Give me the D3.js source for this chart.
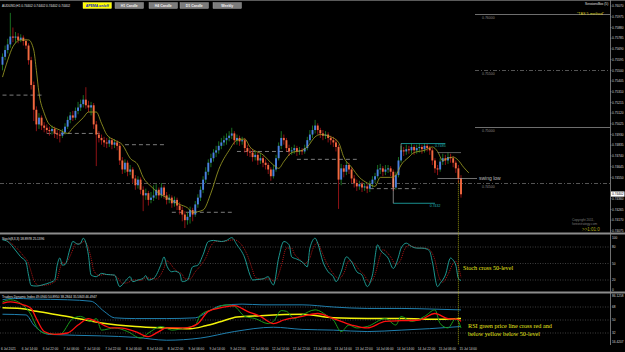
<!DOCTYPE html>
<html>
<head>
<meta charset="utf-8">
<script src="https://cdn.jsdelivr.net/npm/d3@7"></script>
<style>
html, body { margin: 0; padding: 0; background: #000; }
svg { display: block; }
</style>
</head>
<body>
<div id="chart"></div>
<script>
// AUDUSD H1, prices in pips (x 0.0001), open = previous close
var firstOpen = 7555;
var closes = [7562,7568,7573,7580,7579,7580,7577,7579,7576,7572,
	7559,7537,7515,7502,7508,7501,7499,7497,7496,7498,
	7494,7493,7492,7495,7500,7506,7510,7508,7514,7517,
	7520,7524,7519,7517,7519,7502,7493,7490,7488,7486,
	7485,7488,7484,7486,7483,7470,7462,7468,7460,7462,
	7454,7448,7453,7444,7439,7441,7435,7437,7439,7444,
	7439,7446,7439,7435,7437,7432,7435,7430,7426,7422,
	7417,7420,7426,7422,7431,7437,7444,7453,7460,7468,
	7472,7477,7479,7483,7486,7488,7490,7492,7494,7488,
	7490,7487,7488,7481,7478,7477,7473,7475,7470,7472,
	7468,7466,7462,7456,7462,7472,7483,7490,7488,7481,
	7478,7479,7481,7478,7479,7478,7481,7488,7493,7497,
	7501,7497,7494,7492,7493,7490,7488,7486,7482,7453,
	7463,7460,7466,7462,7454,7450,7447,7449,7446,7447,
	7445,7449,7453,7456,7462,7463,7460,7462,7463,7460,
	7446,7457,7470,7479,7478,7480,7479,7482,7479,7481,
	7482,7480,7483,7481,7479,7470,7463,7462,7469,7472,
	7470,7473,7472,7468,7463,7454,7440];
var highs = [7565,7572,7578,7601,7588,7584,7583,7582,7581,7578,
	7574,7562,7540,7518,7512,7510,7504,7502,7500,7501,
	7500,7497,7496,7498,7503,7509,7513,7514,7517,7522,
	7524,7528,7535,7523,7522,7521,7505,7496,7493,7491,
	7490,7491,7490,7489,7488,7485,7473,7471,7470,7466,
	7464,7457,7456,7455,7447,7445,7443,7442,7448,7449,
	7446,7450,7448,7442,7440,7439,7438,7437,7433,7429,
	7425,7424,7429,7428,7434,7440,7447,7456,7464,7471,
	7476,7480,7483,7487,7490,7492,7494,7496,7499,7496,
	7493,7492,7491,7490,7484,7481,7480,7478,7477,7476,
	7474,7471,7468,7464,7466,7475,7486,7496,7493,7490,
	7484,7482,7484,7483,7482,7481,7484,7491,7497,7501,
	7506,7503,7499,7497,7496,7495,7492,7491,7489,7484,
	7467,7466,7469,7468,7464,7457,7453,7452,7451,7450,
	7449,7452,7456,7459,7466,7467,7465,7466,7466,7465,
	7462,7460,7473,7483,7482,7484,7483,7485,7484,7484,
	7485,7484,7485,7485,7483,7481,7472,7466,7472,7476,
	7475,7477,7476,7474,7470,7466,7457];
var lows = [7550,7559,7565,7570,7575,7574,7574,7575,7572,7569,
	7555,7533,7505,7496,7498,7497,7495,7494,7492,7493,
	7490,7489,7486,7490,7493,7498,7503,7505,7506,7511,
	7514,7517,7516,7513,7510,7498,7465,7486,7484,7482,
	7481,7482,7480,7481,7479,7466,7458,7459,7456,7457,
	7450,7444,7445,7440,7425,7435,7430,7432,7434,7436,
	7435,7437,7436,7431,7432,7428,7429,7426,7422,7416,
	7410,7413,7414,7416,7420,7428,7434,7441,7450,7457,
	7464,7469,7473,7476,7480,7483,7484,7487,7489,7484,
	7484,7483,7484,7477,7474,7473,7469,7470,7466,7467,
	7464,7462,7458,7452,7454,7460,7470,7480,7484,7478,
	7474,7475,7476,7474,7475,7475,7476,7479,7486,7490,
	7494,7493,7490,7488,7489,7486,7484,7482,7478,7427,
	7448,7455,7457,7458,7450,7446,7443,7444,7442,7443,
	7441,7442,7446,7450,7454,7458,7456,7457,7459,7456,
	7443,7444,7455,7468,7474,7475,7476,7476,7475,7476,
	7477,7476,7477,7478,7475,7466,7459,7457,7460,7466,
	7466,7467,7468,7464,7459,7450,7437];

// displaced moving average [bar, pips]
var maLine = [[0,7544],[2,7559],[4,7571],[7,7577],[10,7577],[12,7568],[13,7550],[14,7530],
	[16,7512],[18,7502],[22,7497],[25,7494],[27,7499],[31,7508],[33,7513],[36,7513],
	[38,7503],[40,7493],[43,7488],[46,7484],[49,7472],[52,7466],[54,7455],[57,7447],
	[60,7441],[63,7437],[68,7431],[71,7428],[73,7424],[77,7426],[80,7441],[83,7462],
	[87,7479],[90,7488],[93,7489],[95,7482],[100,7475],[104,7466],[106,7463],[108,7469],
	[111,7477],[115,7479],[117,7482],[120,7491],[122,7493],[126,7491],[129,7486],[131,7473],
	[134,7464],[137,7455],[140,7450],[143,7447],[145,7455],[149,7455],[151,7457],[153,7466],
	[156,7473],[158,7477],[162,7479],[165,7482],[167,7478],[169,7470],[171,7472],[173,7473],
	[175,7470],[177,7464],[179,7459]];

// grey dashed pivot segments [fromBar, toBar, pips]
var pivotSegs = [[0,15,7528],[17,38,7494],[47,63,7484],[65,88,7424],[90,110,7478],[113,136,7471],[141,160,7445]];

// round number levels on the right
var roundLevels = [
	{p: 0.7600, label: "0.76000", style: "solid"},
	{p: 0.7550, label: "0.75500", style: "dashdot"},
	{p: 0.7500, label: "0.75000", style: "solid"},
	{p: 0.7450, label: "0.74500", style: "dashdot"}
];

var priceTicks = [0.74075,0.74170,0.74265,0.74360,0.74550,0.74645,0.74740,0.74835,0.74930,
	0.75025,0.75120,0.75215,0.75310,0.75405,0.75500,0.75595,0.75690,0.75785,0.75880,0.75975,0.76070];
var lastPrice = 0.74402;

// Stochastic (8,3,3) [bar, value]
var stochMain = [[0,93],[2,90],[4,80],[7,62],[9,53],[10,29],[11,10],[13,9],[16,12],[18,15],
	[20,20],[21,47],[22,60],[23,47],[24,48],[26,78],[27,90],[29,85],[30,87],[31,96],
	[33,65],[34,29],[36,26],[38,32],[40,30],[43,29],[45,8],[47,17],[49,26],[50,17],
	[52,20],[54,23],[55,28],[56,20],[58,23],[61,50],[62,62],[63,47],[65,35],[66,36],
	[68,32],[69,17],[71,20],[73,44],[75,47],[77,66],[79,90],[81,92],[84,90],[86,92],
	[88,97],[90,84],[93,60],[95,29],[96,20],[98,21],[100,22],[102,26],[103,17],[104,11],
	[106,60],[108,90],[110,84],[111,62],[113,58],[115,53],[117,44],[118,78],[120,96],[121,87],
	[123,53],[125,35],[127,26],[128,17],[130,35],[132,62],[134,53],[136,35],[138,29],[139,17],
	[140,8],[142,29],[144,84],[145,75],[148,60],[150,41],[152,62],[153,78],[155,87],[157,81],
	[159,78],[161,78],[163,76],[164,72],[165,53],[167,8],[168,14],[170,29],[172,60],[173,56],
	[174,47],[175,23],[176,19]];
var stochSignal = [[1,92],[3,88],[5,80],[8,64],[10,50],[11,35],[12,20],[14,10],[17,11],[19,14],
	[21,22],[22,40],[23,52],[24,50],[25,55],[27,75],[28,86],[30,86],[31,90],[32,88],
	[34,60],[35,38],[37,28],[39,30],[41,30],[44,25],[46,14],[48,15],[50,20],[51,20],
	[53,19],[55,24],[57,23],[59,22],[62,42],[63,55],[64,52],[66,40],[67,36],[69,30],
	[70,22],[72,22],[74,35],[76,46],[78,60],[80,82],[82,90],[85,90],[87,92],[89,93],
	[91,88],[94,65],[96,38],[97,25],[99,22],[101,22],[103,22],[104,18],[105,20],[107,45],
	[109,78],[111,78],[112,68],[114,58],[116,50],[118,60],[119,75],[121,88],[122,78],[124,55],
	[126,38],[128,26],[129,22],[131,32],[133,55],[135,50],[137,38],[139,28],[140,20],[141,16],
	[143,30],[145,65],[146,75],[149,62],[151,48],[153,58],[154,72],[156,83],[158,80],[160,78],
	[162,78],[164,75],[165,68],[166,56],[167,35],[168,20],[169,16],[171,30],[173,50],[174,54],
	[175,45],[176,25]];
var stochLevels = [80, 50, 20];
var stochAxis = ["100", "80", "50", "20", "0"];

// Traders Dynamic Index [bar, value]
var tdiUpper = [[0,78],[4,80],[12,79],[25,78],[34,76],[39,62],[43,53],[51,52],[63,52],[74,53],
	[79,62],[84,70],[92,72],[100,71],[115,71],[127,68],[140,66],[153,66],[166,65],[176,64]];
var tdiLower = [[0,58],[9,57],[12,43],[18,30],[38,28],[51,26],[63,22],[76,25],[89,34],[104,40],
	[115,37],[127,36],[140,34],[153,36],[164,38],[176,41]];
var tdiBase = [[0,67],[7,66],[13,62],[25,55],[38,46],[51,41],[63,39],[72,38],[78,42],[84,48],
	[90,54],[99,56],[115,58],[127,53],[140,52],[153,52],[168,51],[176,52]];
var tdiRsi = [[0,75],[3,78],[8,70],[11,57],[13,41],[16,32],[22,30],[27,52],[30,55],[34,48],
	[36,52],[38,36],[43,39],[48,34],[53,25],[56,32],[61,41],[65,36],[70,39],[74,43],
	[76,57],[81,65],[86,71],[89,69],[93,55],[97,52],[102,45],[104,48],[107,63],[109,62],
	[112,52],[115,57],[120,64],[125,55],[127,50],[130,34],[133,43],[136,39],[140,41],[147,52],
	[151,43],[153,55],[157,48],[162,55],[166,64],[168,45],[171,39],[174,52],[175,48],[176,39]];
var tdiSignal = [[0,73],[3,75],[8,71],[11,66],[13,52],[16,34],[20,30],[25,32],[29,43],[33,52],
	[36,48],[42,39],[45,39],[51,34],[56,27],[60,34],[63,39],[70,39],[75,45],[79,62],
	[84,67],[89,70],[94,62],[99,55],[104,45],[108,50],[115,55],[121,59],[127,52],[134,43],
	[140,39],[147,48],[153,49],[160,50],[166,59],[171,52],[175,51],[176,48]];
var tdiLevels = [68, 50, 32];
var tdiAxis = ["86.1258", "68", "50", "32", "16.4207"];

var timeLabels = ["6 Jul 2021","6 Jul 14:00","6 Jul 22:00","7 Jul 06:00","7 Jul 14:00","7 Jul 22:00",
	"8 Jul 06:00","8 Jul 14:00","8 Jul 22:00","9 Jul 06:00","9 Jul 14:00","9 Jul 22:00",
	"12 Jul 06:00","12 Jul 14:00","12 Jul 22:00","13 Jul 06:00","13 Jul 14:00","13 Jul 22:00",
	"14 Jul 06:00","14 Jul 14:00","14 Jul 22:00","15 Jul 06:00","15 Jul 14:00"];

var buttons = ["APEMA on/off", "H1 Candle", "H4 Candle", "D1 Candle", "Weekly"];

drawChart()

function drawChart() {
	var W = 625, H = 352;
	var plotRight = 610;
	var font = "Liberation Sans";

	var svg = d3.select("#chart").append("svg")
		.attr("width", W)
		.attr("height", H)
		.style("background", "#000");

	// scales
	var x = d3.scaleLinear().domain([0, 176]).range([2.5, 461]);
	var y = d3.scaleLinear().domain([0.7450, 0.7600]).range([183, 14]);
	var yS = d3.scaleLinear().domain([20, 80]).range([280, 247]);
	var yT = d3.scaleLinear().domain([32, 68]).range([333, 307]);
	var pip = function (v) { return v / 10000; };

	var bars = closes.map(function (c, i) {
		return {
			i: i,
			o: pip(i === 0 ? firstOpen : closes[i - 1]),
			c: pip(c),
			h: pip(highs[i]),
			l: pip(lows[i])
		};
	});

	svg.append("defs").append("clipPath").attr("id", "mainclip")
		.append("rect").attr("x", 0).attr("y", 1).attr("width", plotRight).attr("height", 231);

	var main = svg.append("g").attr("clip-path", "url(#mainclip)");

	// round number levels
	roundLevels.forEach(function (d) {
		var yy = Math.round(y(d.p)) + 0.5;
		main.append("line")
			.attr("x1", d.p === 0.7450 ? 0 : 475).attr("x2", plotRight)
			.attr("y1", yy).attr("y2", yy)
			.attr("stroke", d.style === "solid" ? "#8a8a8a" : "#6a6a6a")
			.attr("stroke-width", 0.8)
			.attr("stroke-dasharray", d.style === "solid" ? null : "4,2,1,2");
		main.append("text")
			.attr("x", 482).attr("y", yy + 4)
			.attr("fill", "#8a8a8a")
			.style("font-family", font).style("font-size", "3.5px")
			.text(d.label);
	});

	// pivot segments
	main.selectAll(".pivot").data(pivotSegs).enter().append("line")
		.attr("x1", function (d) { return x(d[0]); })
		.attr("x2", function (d) { return x(d[1]); })
		.attr("y1", function (d) { return y(pip(d[2])); })
		.attr("y2", function (d) { return y(pip(d[2])); })
		.attr("stroke", "#9a9a9a")
		.attr("stroke-width", 0.8)
		.attr("stroke-dasharray", "4,3");

	// wicks
	main.selectAll(".wick").data(bars).enter().append("line")
		.attr("x1", function (d) { return x(d.i); })
		.attr("x2", function (d) { return x(d.i); })
		.attr("y1", function (d) { return y(d.h); })
		.attr("y2", function (d) { return y(d.l); })
		.attr("stroke", function (d) { return d.c >= d.o ? "#1f8a2a" : "#b3161a"; })
		.attr("stroke-width", 0.8);

	// bodies
	main.selectAll(".body").data(bars).enter().append("rect")
		.attr("x", function (d) { return x(d.i) - 0.95; })
		.attr("width", 1.9)
		.attr("y", function (d) { return y(Math.max(d.o, d.c)); })
		.attr("height", function (d) { return Math.max(0.8, Math.abs(y(d.o) - y(d.c))); })
		.attr("fill", function (d) { return d.c >= d.o ? "#4a80e0" : "#f26a40"; });

	// displaced MA
	main.append("path")
		.datum(maLine)
		.attr("d", d3.line()
			.x(function (d) { return x(d[0]); })
			.y(function (d) { return y(pip(d[1])); })
			.curve(d3.curveMonotoneX))
		.attr("fill", "none")
		.attr("stroke", "#a3a326")
		.attr("stroke-width", 0.8);

	// swing annotations
	var teal = "#20b4b4";
	var hi = pip(7485), lo = pip(7432);
	main.append("line").attr("x1", x(153)).attr("x2", x(170)).attr("y1", y(hi)).attr("y2", y(hi))
		.attr("stroke", teal).attr("stroke-width", 0.8);
	main.append("line").attr("x1", x(153)).attr("x2", x(153)).attr("y1", y(hi)).attr("y2", y(pip(7478)))
		.attr("stroke", "#cfcfcf").attr("stroke-width", 0.6);
	main.append("text").attr("x", x(166)).attr("y", y(hi) + 3.5).attr("fill", teal)
		.style("font-family", font).style("font-size", "3.5px").text("0.7485");
	main.append("line").attr("x1", x(150)).attr("x2", x(166)).attr("y1", y(lo)).attr("y2", y(lo))
		.attr("stroke", teal).attr("stroke-width", 0.8);
	main.append("line").attr("x1", x(150)).attr("x2", x(150)).attr("y1", y(pip(7454))).attr("y2", y(lo))
		.attr("stroke", "#cfcfcf").attr("stroke-width", 0.6);
	main.append("text").attr("x", x(164)).attr("y", y(lo) + 3.5).attr("fill", teal)
		.style("font-family", font).style("font-size", "3.5px").text("0.7432");
	main.append("line").attr("x1", x(167)).attr("x2", x(176)).attr("y1", y(pip(7477))).attr("y2", y(pip(7477)))
		.attr("stroke", "#9a9a9a").attr("stroke-width", 0.6);
	var swingLow = pip(7454);
	main.append("line").attr("x1", x(167)).attr("x2", 477).attr("y1", y(swingLow)).attr("y2", y(swingLow))
		.attr("stroke", "#bdbdbd").attr("stroke-width", 0.6);
	main.append("text").attr("x", 479).attr("y", y(swingLow) + 1.5).attr("fill", "#bdbdbd")
		.style("font-family", font).style("font-size", "5px").text("swing low");

	// panel separators
	[233.5, 292.5].forEach(function (yy) {
		svg.append("line").attr("x1", 0).attr("x2", W).attr("y1", yy).attr("y2", yy)
			.attr("stroke", "#8c8c8c").attr("stroke-width", 2);
	});
	svg.append("line").attr("x1", 0).attr("x2", W).attr("y1", 0.5).attr("y2", 0.5)
		.attr("stroke", "#5a5a5a").attr("stroke-width", 1);
	svg.append("line").attr("x1", plotRight + 0.5).attr("x2", plotRight + 0.5).attr("y1", 0).attr("y2", 345)
		.attr("stroke", "#8c8c8c").attr("stroke-width", 0.8);

	// price axis
	var axisG = svg.append("g").style("font-family", font).style("font-size", "3.2px").attr("fill", "#d6d6d6");
	priceTicks.forEach(function (p) {
		axisG.append("line").attr("x1", plotRight).attr("x2", plotRight + 1.5)
			.attr("y1", y(p)).attr("y2", y(p)).attr("stroke", "#8c8c8c").attr("stroke-width", 0.6);
		axisG.append("text").attr("x", plotRight + 2).attr("y", y(p) + 1.2).text(p.toFixed(5));
	});
	svg.append("rect").attr("x", plotRight + 1).attr("y", y(lastPrice) - 2.6)
		.attr("width", 13.5).attr("height", 5.2).attr("fill", "#ffffff");
	svg.append("text").attr("x", plotRight + 2).attr("y", y(lastPrice) + 1.2)
		.style("font-family", font).style("font-size", "3.2px").attr("fill", "#000")
		.text(lastPrice.toFixed(5));

	// stochastic panel
	var levelLine = function (g, yy) {
		g.append("line").attr("x1", 0).attr("x2", plotRight).attr("y1", yy).attr("y2", yy)
			.attr("stroke", "#7a7a7a").attr("stroke-width", 0.5).attr("stroke-dasharray", "1,1.5");
	};
	var stoch = svg.append("g");
	stochLevels.forEach(function (v) { levelLine(stoch, yS(v)); });
	var lineS = d3.line().x(function (d) { return x(d[0]); }).y(function (d) { return yS(d[1]); })
		.curve(d3.curveMonotoneX);
	stoch.append("path").datum(stochSignal).attr("d", lineS).attr("fill", "none")
		.attr("stroke", "#d41a1a").attr("stroke-width", 0.8).attr("stroke-dasharray", "1,1");
	stoch.append("path").datum(stochMain).attr("d", lineS).attr("fill", "none")
		.attr("stroke", "#1fa79e").attr("stroke-width", 0.9);
	var stochVals = [100, 80, 50, 20, 0];
	stochVals.forEach(function (v, k) {
		axisG.append("text").attr("x", plotRight + 2).attr("y", Math.min(Math.max(yS(v), 237.5), 290) + 1.2)
			.text(stochAxis[k]);
	});

	// TDI panel
	var tdi = svg.append("g");
	tdiLevels.forEach(function (v) { levelLine(tdi, yT(v)); });
	var lineT = d3.line().x(function (d) { return x(d[0]); }).y(function (d) { return yT(d[1]); })
		.curve(d3.curveMonotoneX);
	tdi.append("path").datum(tdiUpper).attr("d", lineT).attr("fill", "none")
		.attr("stroke", "#1f7fae").attr("stroke-width", 1);
	tdi.append("path").datum(tdiLower).attr("d", lineT).attr("fill", "none")
		.attr("stroke", "#1f7fae").attr("stroke-width", 1);
	tdi.append("path").datum(tdiBase).attr("d", lineT).attr("fill", "none")
		.attr("stroke", "#f2f20a").attr("stroke-width", 1.5);
	tdi.append("path").datum(tdiRsi).attr("d", lineT).attr("fill", "none")
		.attr("stroke", "#1a9a1a").attr("stroke-width", 1);
	tdi.append("path").datum(tdiSignal).attr("d", lineT).attr("fill", "none")
		.attr("stroke", "#ff1010").attr("stroke-width", 1.3);
	var tdiVals = [86, 68, 50, 32, 16];
	tdiVals.forEach(function (v, k) {
		axisG.append("text").attr("x", plotRight + 2).attr("y", Math.min(Math.max(yT(v), 296), 342) + 1.2)
			.text(tdiAxis[k]);
	});

	// time axis
	var timeG = svg.append("g").style("font-family", font).style("font-size", "3.2px").attr("fill", "#d6d6d6");
	timeLabels.forEach(function (t, k) {
		timeG.append("text").attr("x", x(k * 8) - 1.5).attr("y", 349.5).text(t);
	});

	// vertical marker where stoch crosses
	svg.append("line").attr("x1", x(175)).attr("x2", x(175)).attr("y1", y(pip(7452))).attr("y2", 345)
		.attr("stroke", "#b8b814").attr("stroke-width", 0.8).attr("stroke-dasharray", "1,1");

	// notes
	var notes = svg.append("g").style("font-family", "Liberation Serif").style("font-size", "6.2px").attr("fill", "#e8e81a");
	notes.append("text").attr("x", 463).attr("y", 270).text("Stoch cross 50-level");
	notes.append("text").attr("x", 468).attr("y", 328).text("RSI green price line cross red and");
	notes.append("text").attr("x", 468).attr("y", 336).text("below yellow below 50-level");

	// panel captions
	var cap = svg.append("g").style("font-family", font).style("font-size", "3.2px").attr("fill", "#e0e0e0");
	cap.append("text").attr("x", 2).attr("y", 6.5).text("AUDUSD,H1  0.74402 0.74402 0.74402 0.74402");
	cap.append("text").attr("x", 2).attr("y", 239.5).text("Stoch(8,3,3) 18.8978 25.1396");
	cap.append("text").attr("x", 2).attr("y", 297.5).text("Traders Dynamic Index 49.0940 50.8950 38.2844 35.5843 46.4947");
	cap.append("text").attr("x", 585).attr("y", 5).text("SessionsBox (5)");
	cap.append("text").attr("x", 577).attr("y", 15).attr("fill", "#d8c820").style("font-size", "3.8px").text("\"TAS 5-method\"");
	cap.append("text").attr("x", 572).attr("y", 221).attr("fill", "#7a7a7a").text("Copyright 2011,");
	cap.append("text").attr("x", 572).attr("y", 225).attr("fill", "#7a7a7a").text("forexstrategy.com");
	cap.append("text").attr("x", 582).attr("y", 230.5).attr("fill", "#b0a818").style("font-size", "4.5px").text(">>1:01:0");

	// buttons
	var bx = [83, 115, 149, 180, 213];
	buttons.forEach(function (b, k) {
		var first = k === 0;
		svg.append("rect").attr("x", bx[k]).attr("y", 2.5).attr("width", 28.5).attr("height", 6)
			.attr("fill", first ? "#ffff00" : "#7c7c7c")
			.attr("stroke", first ? "#ffff66" : "#a8a8a8").attr("stroke-width", 0.4);
		svg.append("text").attr("x", bx[k] + 14.25).attr("y", 6.7)
			.style("font-family", font).style("font-size", "3.5px").style("font-weight", "bold")
			.style("text-anchor", "middle")
			.attr("fill", first ? "#1020c0" : "#f0f0f0")
			.text(b);
	});
}
</script>
</body>
</html>
